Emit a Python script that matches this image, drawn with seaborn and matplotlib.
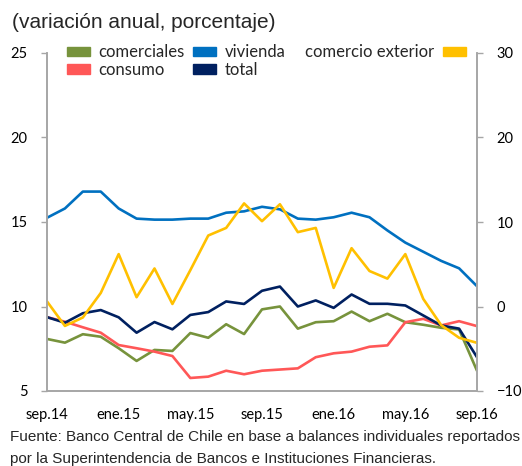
import pandas as pd
import numpy as np
import matplotlib
matplotlib.use('Agg')
import matplotlib.pyplot as plt
from matplotlib.patches import Patch
import seaborn as sns

months = ['sep.14', 'oct.14', 'nov.14', 'dic.14', 'ene.15', 'feb.15', 'mar.15', 'abr.15', 'may.15',
          'jun.15', 'jul.15', 'ago.15', 'sep.15', 'oct.15', 'nov.15', 'dic.15', 'ene.16', 'feb.16',
          'mar.16', 'abr.16', 'may.16', 'jun.16', 'jul.16', 'ago.16', 'sep.16']
tick_labels = ['sep.14', 'ene.15', 'may.15', 'sep.15', 'ene.16', 'may.16', 'sep.16']

comerciales = [8.08, 7.86, 8.36, 8.21, 7.53, 6.78, 7.43, 7.37, 8.43, 8.15, 8.95, 8.37, 9.83,
               10.0, 8.69, 9.07, 9.13, 9.70, 9.13, 9.57, 9.07, 8.92, 8.74, 8.64, 6.2]
vivienda = [15.25, 15.8, 16.8, 16.8, 15.8, 15.2, 15.14, 15.14, 15.2, 15.2, 15.55, 15.63, 15.9,
            15.75, 15.2, 15.14, 15.28, 15.55, 15.28, 14.5, 13.78, 13.24, 12.7, 12.26, 11.2]
consumo = [9.37, 9.1, 8.77, 8.45, 7.72, 7.53, 7.33, 7.07, 5.77, 5.85, 6.2, 5.99, 6.2,
           6.27, 6.34, 7.0, 7.23, 7.33, 7.62, 7.7, 9.07, 9.27, 8.88, 9.13, 8.84]
total = [9.37, 9.04, 9.6, 9.79, 9.36, 8.45, 9.08, 8.65, 9.5, 9.67, 10.3, 10.15, 10.93,
         11.18, 10.0, 10.36, 9.92, 10.71, 10.16, 10.16, 10.06, 9.47, 8.88, 8.69, 7.0]
comercio_exterior = [0.6, -2.3, -1.3, 1.6, 6.2, 1.1, 4.5, 0.3, 4.3, 8.4, 9.3, 12.2, 10.1,
                     12.1, 8.8, 9.3, 2.2, 6.9, 4.2, 3.3, 6.2, 0.9, -2.2, -3.7, -4.3]

colors = {'comerciales': '#77933C', 'vivienda': '#0070C0', 'consumo': '#FF5757',
          'total': '#002060', 'comercio exterior': '#FFC000'}

x = np.arange(len(months))
left = pd.DataFrame({'x': x, 'comerciales': comerciales, 'vivienda': vivienda,
                     'consumo': consumo, 'total': total})
left = left.melt(id_vars='x', var_name='serie', value_name='valor')
right = pd.DataFrame({'x': x, 'valor': comercio_exterior})

sns.set_style('white')
plt.rcParams['font.family'] = ['Lato', 'DejaVu Sans']

fig = plt.figure(figsize=(5.22, 4.66), dpi=100)
ax = fig.add_axes([47 / 522, 1 - 391 / 466, 430 / 522, 338 / 466])
ax2 = ax.twinx()

sns.lineplot(data=left, x='x', y='valor', hue='serie', palette=colors, linewidth=1.9,
             ax=ax, legend=False)
sns.lineplot(data=right, x='x', y='valor', color=colors['comercio exterior'], linewidth=1.9,
             ax=ax2, legend=False)

ax.set_xlim(0, 24)
ax.set_ylim(5, 25)
ax2.set_ylim(-10, 30)
ax.set_yticks([5, 10, 15, 20, 25])
ax2.set_yticks([-10, 0, 10, 20, 30])
ax.set_xticks(range(0, 25, 4))
ax.set_xticklabels(tick_labels)
ax.set_xlabel('')
ax.set_ylabel('')
ax2.set_ylabel('')

for a in (ax, ax2):
    a.spines['top'].set_visible(False)
    for side in ['left', 'right', 'bottom']:
        a.spines[side].set_color('#A6A6A6')
        a.spines[side].set_linewidth(1.2)
    a.tick_params(axis='both', direction='out', length=4, width=1, color='#A6A6A6',
                  labelsize=10.5, labelcolor='black', pad=6)
ax.tick_params(axis='x', pad=8)
ax.tick_params(axis='y', left=True, pad=10)
ax2.tick_params(axis='y', right=True, pad=10)

handles = [Patch(color=colors[k]) for k in ['comerciales', 'consumo', 'vivienda', 'total']]
labels = ['comerciales', 'consumo', 'vivienda', 'total']
leg1 = ax2.legend(handles, labels, ncol=2, loc='upper left', bbox_to_anchor=(0.03, 1.045),
                  frameon=False, fontsize=12, handlelength=1.4, handleheight=0.5,
                  handletextpad=0.5, columnspacing=0.5, labelspacing=0.1, borderaxespad=0)
ax2.add_artist(leg1)
ax2.legend([Patch(color=colors['comercio exterior'])], ['comercio exterior'], loc='upper right',
           bbox_to_anchor=(0.99, 1.045), frameon=False, fontsize=12, markerfirst=False,
           handlelength=1.4, handleheight=0.5, handletextpad=0.5, borderaxespad=0)

fig.text(12 / 522, 1 - 22 / 466, '(variación anual, porcentaje)', fontsize=15,
         family='Liberation Sans', va='center', ha='left')
fig.text(10 / 522, 1 - 437 / 466,
         'Fuente: Banco Central de Chile en base a balances individuales reportados',
         fontsize=11, family='Liberation Sans', va='center', ha='left')
fig.text(10 / 522, 1 - 459 / 466,
         'por la Superintendencia de Bancos e Instituciones Financieras.',
         fontsize=11, family='Liberation Sans', va='center', ha='left')

fig.savefig('out.png', dpi=100)
